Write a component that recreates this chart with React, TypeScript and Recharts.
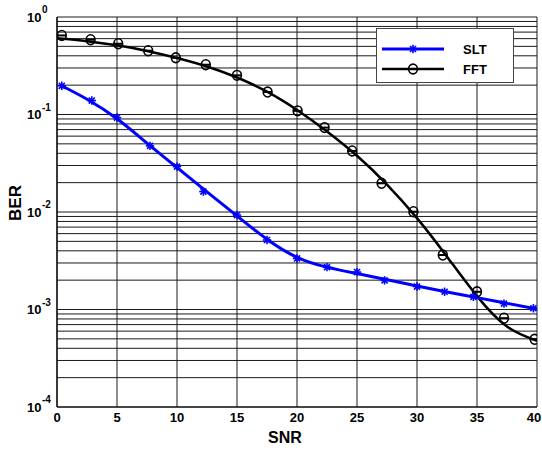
import React from 'react';
import { ComposedChart, Line, XAxis, YAxis, CartesianGrid, ReferenceLine } from 'recharts';

// ---- data ----
// markers
const sltX = [0.4, 2.9, 5.0, 7.75, 10, 12.2, 15, 17.5, 20, 22.5, 25, 27.3, 30, 32.3, 34.7, 37.25, 39.7];
const sltY = [0.197, 0.139, 0.093, 0.0477, 0.0292, 0.0162, 0.0093, 0.00516, 0.00334, 0.00272, 0.00242, 0.00199, 0.00172, 0.00152, 0.00135, 0.00115, 0.00103];

const fftX = [0.4, 2.8, 5.1, 7.6, 9.9, 12.4, 15, 17.55, 20.05, 22.3, 24.6, 27.05, 29.7, 32.15, 35.0, 37.25, 39.8];
const fftY = [0.647, 0.585, 0.532, 0.451, 0.382, 0.324, 0.252, 0.170, 0.109, 0.0734, 0.0423, 0.0197, 0.01007, 0.00362, 0.00152, 0.000815, 0.000495];

// smooth fitted curves
const sltCurveX = [0.3, 2.5, 5, 7.5, 10, 12.5, 15, 17.5, 20, 22.5, 25, 27.5, 30, 32.5, 35, 37.5, 40];
const sltCurveY = [0.1995, 0.1435, 0.0906, 0.0509, 0.0286, 0.0161, 0.00912, 0.00525, 0.00343, 0.00272, 0.00234, 0.00202, 0.00174, 0.00151, 0.001324, 0.001156, 0.001012];

const fftCurveX = [0, 2.5, 5, 7.5, 10, 12.5, 15, 17.5, 20, 22.5, 25, 27.5, 30, 32.5, 35, 37.5, 40];
const fftCurveY = [0.605, 0.565, 0.5124, 0.4487, 0.3798, 0.3105, 0.2396, 0.1716, 0.1114, 0.0671, 0.03776, 0.01914, 0.00865, 0.003483, 0.001371, 0.000668, 0.000478];

const xTicks = [0, 5, 10, 15, 20, 25, 30, 35, 40];
const yTicks = [1e-4, 1e-3, 1e-2, 1e-1, 1];
const minorMultipliers = [2, 3, 4, 5, 6, 7, 8, 9];

const seriesNames = ['SLT', 'FFT'];

// ---- tables built from the arrays ----
const zip = (xs: number[], ys: number[]) => xs.map((x, i) => ({ x, y: ys[i] }));
const sltPts = zip(sltX, sltY);
const sltCurve = zip(sltCurveX, sltCurveY);
const fftPts = zip(fftX, fftY);
const fftCurve = zip(fftCurveX, fftCurveY);

const gridY: number[] = [];
yTicks.forEach((d, i) => {
  gridY.push(d);
  if (i < yTicks.length - 1) minorMultipliers.forEach((m) => gridY.push(d * m));
});

const FONT = '"Liberation Sans", Arial, Helvetica, sans-serif';
const BLUE = '#0000ff';
const GRID = '#1a1a1a';

const Asterisk = (props: any) => {
  const { cx, cy } = props;
  if (cx == null || cy == null) return null;
  const r = 4.2;
  const d = r * 0.72;
  return (
    <g stroke={BLUE} strokeWidth={1.6}>
      <line x1={cx} y1={cy - r} x2={cx} y2={cy + r} />
      <line x1={cx - r} y1={cy} x2={cx + r} y2={cy} />
      <line x1={cx - d} y1={cy - d} x2={cx + d} y2={cy + d} />
      <line x1={cx - d} y1={cy + d} x2={cx + d} y2={cy - d} />
    </g>
  );
};

const Circ = (props: any) => {
  const { cx, cy } = props;
  if (cx == null || cy == null) return null;
  return (
    <g stroke="#000" fill="none">
      <ellipse cx={cx} cy={cy} rx={4.4} ry={4.9} strokeWidth={1.6} />
      <line x1={cx - 4.4} y1={cy} x2={cx + 4.4} y2={cy} strokeWidth={2} />
    </g>
  );
};

const YTick = (props: any) => {
  const { x, y, payload } = props;
  const exp = Math.round(Math.log10(payload.value));
  const left = x - 22;
  return (
    <text fontFamily={FONT} fontWeight="bold" fill="#000">
      <tspan x={left} y={y + 4.5} fontSize={13}>10</tspan>
      <tspan x={left + 15} y={y - 4} fontSize={10}>{String(exp)}</tspan>
    </text>
  );
};

const XTick = (props: any) => {
  const { x, y, payload } = props;
  return (
    <text x={x} y={y} dy="0.71em" textAnchor="middle" fontFamily={FONT} fontWeight="bold" fontSize={13} fill="#000">
      {payload.value}
    </text>
  );
};

const XLabel = (props: any) => {
  const vb = props.viewBox || {};
  return (
    <text x={vb.x + vb.width / 2 - 12} y={vb.y + 30} dominantBaseline="central" textAnchor="middle"
      fontFamily={FONT} fontWeight="bold" fontSize={16} fill="#000">SNR</text>
  );
};

const YLabel = (props: any) => {
  const vb = props.viewBox || {};
  const cx = 15;
  const cy = vb.y + vb.height / 2 - 9;
  return (
    <text x={cx} y={cy} transform={`rotate(-90 ${cx} ${cy})`} dominantBaseline="central" textAnchor="middle"
      fontFamily={FONT} fontWeight="bold" fontSize={17} fill="#000">BER</text>
  );
};

const LegendBox = () => (
  <svg width={138} height={55} style={{ position: 'absolute', left: 376, top: 28 }}>
    <rect x={0.5} y={0.5} width={137} height={54} fill="#fff" stroke="#444" strokeWidth={1} />
    <line x1={6} y1={21} x2={68} y2={21} stroke={BLUE} strokeWidth={3} />
    <Asterisk cx={37} cy={21} />
    <text x={87} y={21} dominantBaseline="central" fontFamily={FONT} fontWeight="bold" fontSize={13}>{seriesNames[0]}</text>
    <line x1={6} y1={41} x2={68} y2={41} stroke="#000" strokeWidth={2.5} />
    <Circ cx={37} cy={41} />
    <text x={87} y={41} dominantBaseline="central" fontFamily={FONT} fontWeight="bold" fontSize={13}>{seriesNames[1]}</text>
  </svg>
);

export default function App() {
  return (
    <div style={{ position: 'absolute', left: 0, top: 0, width: 542, height: 450, background: '#fff' }}>
      <ComposedChart width={542} height={450} margin={{ top: 17, right: 5, bottom: 0, left: 0 }}>
        <CartesianGrid horizontal={false} verticalValues={xTicks} stroke={GRID} strokeWidth={1} />
        {gridY.map((v) => (
          <ReferenceLine key={'g' + v} y={v} stroke={GRID} strokeWidth={1} ifOverflow="visible" />
        ))}
        <XAxis dataKey="x" type="number" domain={[0, 40]} ticks={xTicks} allowDataOverflow
          height={43} tickLine={false} tickSize={6} tickMargin={0} axisLine={{ stroke: '#000', strokeWidth: 1.2 }}
          tick={<XTick />} label={{ content: <XLabel /> }} />
        <YAxis type="number" scale="log" domain={[1e-4, 1]} ticks={yTicks} allowDataOverflow
          width={57} tickLine={false} axisLine={{ stroke: '#000', strokeWidth: 1.2 }}
          tick={<YTick />} label={{ content: <YLabel /> }} />
        <Line data={fftCurve} dataKey="y" type="natural" stroke="#000" strokeWidth={2.5} dot={false} activeDot={false} isAnimationActive={false} />
        <Line data={sltCurve} dataKey="y" type="natural" stroke={BLUE} strokeWidth={3} dot={false} activeDot={false} isAnimationActive={false} />
        <Line data={fftPts} dataKey="y" stroke="none" dot={<Circ />} activeDot={false} isAnimationActive={false} />
        <Line data={sltPts} dataKey="y" stroke="none" dot={<Asterisk />} activeDot={false} isAnimationActive={false} />
      </ComposedChart>
      <LegendBox />
    </div>
  );
}
